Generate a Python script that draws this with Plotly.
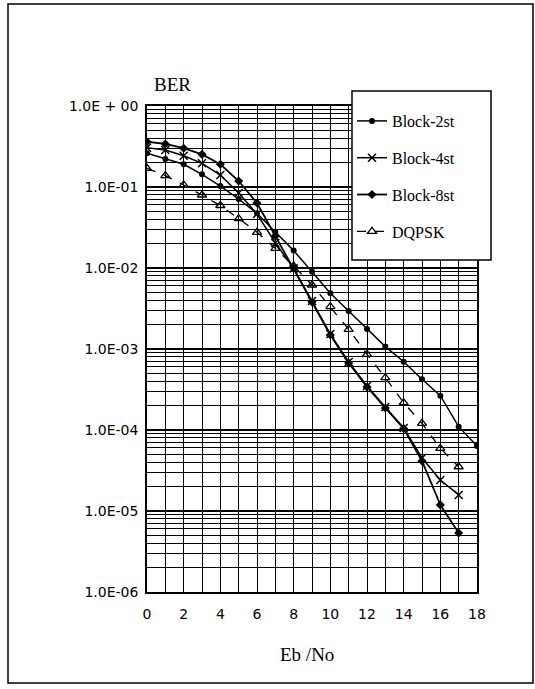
import plotly.graph_objects as go

# ---- data ----
eb_no = [0, 1, 2, 3, 4, 5, 6, 7, 8, 9, 10, 11, 12, 13, 14, 15, 16, 17, 18]
eb_no_17 = eb_no[:18]

block_2st = [0.261, 0.222, 0.191, 0.1435, 0.1028, 0.0711, 0.0473, 0.0278, 0.0164,
             0.0090, 0.00488, 0.00294, 0.00177, 0.00107, 0.000697, 0.000423,
             0.000265, 0.000110, 0.0000634]
block_4st = [0.306, 0.286, 0.243, 0.196, 0.1406, 0.0843, 0.0464, 0.0204, 0.0099,
             0.00392, 0.00153, 0.000692, 0.000349, 0.000192, 0.000106, 0.0000451,
             0.0000241, 0.0000158]
block_8st = [0.362, 0.340, 0.301, 0.253, 0.191, 0.1186, 0.0634, 0.0248, 0.0100,
             0.0038, 0.00149, 0.000671, 0.00034, 0.000187, 0.0001044, 0.0000414,
             0.0000119, 0.00000535]
dqpsk = [0.170, 0.138, 0.106, 0.0797, 0.0591, 0.0408, 0.0276, 0.0175, 0.0106,
         0.00617, 0.00333, 0.00175, 0.00086, 0.000442, 0.000217, 0.000121,
         0.0000594, 0.0000352]

x_tick_vals = [0, 2, 4, 6, 8, 10, 12, 14, 16, 18]
y_tick_vals = [1e0, 1e-1, 1e-2, 1e-3, 1e-4, 1e-5, 1e-6]
y_tick_text = ["1.0E + 00", "1.0E-01", "1.0E-02", "1.0E-03", "1.0E-04", "1.0E-05", "1.0E-06"]
y_minor_vals = [m * 10.0 ** e for e in range(-6, 0) for m in range(2, 10)]

SERIF = "Liberation Serif, Times New Roman, serif"
SANS = "DejaVu Sans, Arial, sans-serif"

fig = go.Figure()
fig.add_trace(go.Scatter(x=eb_no, y=block_2st, name="Block-2st", legendgroup="g1",
                         mode="lines+markers",
                         line=dict(color="black", width=1.5),
                         marker=dict(symbol="circle", size=6, color="black")))
fig.add_trace(go.Scatter(x=eb_no_17, y=block_4st, name="Block-4st", legendgroup="g2",
                         mode="lines+markers",
                         line=dict(color="black", width=1.5),
                         marker=dict(symbol="x-thin", size=8, color="black",
                                     line=dict(color="black", width=1.5))))
fig.add_trace(go.Scatter(x=eb_no_17, y=block_8st, name="Block-8st", legendgroup="g3",
                         mode="lines+markers",
                         line=dict(color="black", width=1.8),
                         marker=dict(symbol="diamond", size=7, color="black")))
fig.add_trace(go.Scatter(x=eb_no_17, y=dqpsk, name="DQPSK", legendgroup="g4",
                         mode="lines+markers",
                         line=dict(color="black", width=1.3, dash="dash"),
                         marker=dict(symbol="triangle-up-open", size=8, color="black",
                                     line=dict(color="black", width=1.3))))

# plot area geometry (px): x 147..477, y 106..592
L, R, T, B = 147, 477, 106, 592
W, H = 535, 689
pw, ph = R - L, B - T


def px(x):
    return (x - L) / pw


def py(y):
    return (B - y) / ph


fig.update_layout(
    width=W, height=H,
    margin=dict(l=L, r=W - R, t=T, b=H - B, pad=0),
    paper_bgcolor="white", plot_bgcolor="white",
    showlegend=True,
    legend=dict(x=px(352), y=py(104), xanchor="left", yanchor="top",
                bgcolor="rgba(0,0,0,0)", borderwidth=0,
                font=dict(family=SERIF, size=16, color="black"),
                tracegroupgap=13, itemwidth=30),
    xaxis=dict(range=[0, 18], tickvals=x_tick_vals, showgrid=True,
               gridcolor="black", gridwidth=1.3,
               minor=dict(dtick=1, showgrid=True, gridcolor="black", gridwidth=1.3),
               showline=True, linecolor="black", linewidth=1.5, mirror=True,
               ticks="", ticklabelstandoff=8, zeroline=False,
               tickfont=dict(family=SANS, size=14, color="black")),
    yaxis=dict(type="log", range=[-6, 0], tickvals=y_tick_vals, ticktext=y_tick_text,
               showgrid=True, gridcolor="black", gridwidth=1.5,
               minor=dict(tickvals=y_minor_vals, showgrid=True, gridcolor="black", gridwidth=1.1),
               showline=True, linecolor="black", linewidth=1.5, mirror=True,
               ticks="", ticklabelstandoff=4, zeroline=False,
               tickfont=dict(family=SANS, size=14, color="black")),
    shapes=[
        dict(type="rect", xref="paper", yref="paper",
             x0=px(8), x1=px(533), y0=py(683), y1=py(4),
             line=dict(color="black", width=1.5), fillcolor="rgba(0,0,0,0)", layer="above"),
        dict(type="rect", xref="paper", yref="paper",
             x0=px(352), x1=px(491), y0=py(260), y1=py(91),
             line=dict(color="black", width=1.5), fillcolor="white", layer="above"),
    ],
    annotations=[
        dict(text="BER", xref="paper", yref="paper", x=px(172), y=py(84),
             xanchor="center", yanchor="middle", showarrow=False,
             font=dict(family=SERIF, size=19, color="black")),
        dict(text="Eb /No", xref="paper", yref="paper", x=px(307), y=py(654),
             xanchor="center", yanchor="middle", showarrow=False,
             font=dict(family=SERIF, size=19, color="black")),
    ],
)

fig.write_html("out.html", config={"displayModeBar": False},
               post_script="document.body.style.margin='0';")
